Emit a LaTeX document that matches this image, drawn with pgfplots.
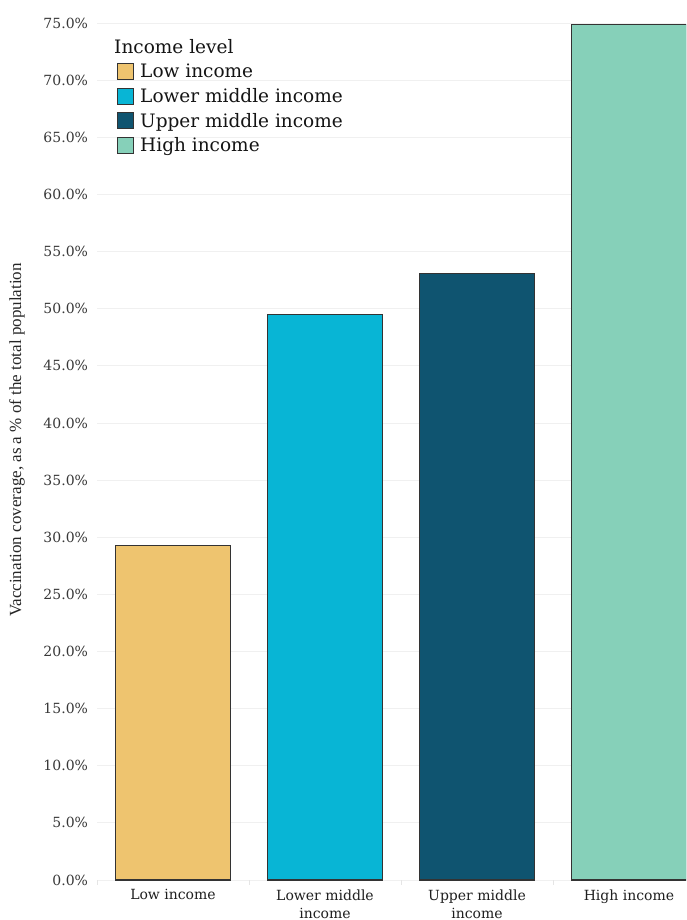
\documentclass[border=0pt]{standalone}
\usepackage{pgfplots}
\pgfplotsset{compat=1.18}
\usepackage{fontspec}
\setmainfont{DejaVu Serif}
\newfontfamily\libserif{Liberation Serif}
\definecolor{lowc}{HTML}{EEC46F}
\definecolor{lmidc}{HTML}{08B5D5}
\definecolor{umidc}{HTML}{0F5470}
\definecolor{highc}{HTML}{86D0B9}
\definecolor{edgec}{HTML}{333333}
\pgfplotsset{
  mybar/.style={ybar, bar shift=0pt, draw=edgec, line width=1.1pt,
    legend image code/.code={\draw[##1, draw=edgec, line width=1pt] (0pt,-8pt) rectangle (16pt,8pt);}},
}
\begin{document}
\begin{tikzpicture}
\useasboundingbox (-97pt,-40pt) rectangle (589pt,880pt);
\begin{axis}[
  at={(0pt,0pt)}, anchor=south west,
  scale only axis, width=589pt, height=880pt,
  xmin=-0.5, xmax=3.375, ymin=0, ymax=77.01,
  bar width=115pt,
  xtick={0,1,2,3},
  xticklabels={Low income, {Lower middle\\income}, {Upper middle\\income}, High income},
  xticklabel style={align=center, font=\fontsize{14}{18}\selectfont, text=black!88, yshift=-6pt},
  ytick={0,5,...,75},
  yticklabel={\pgfmathprintnumber[assume math mode=true,fixed,fixed zerofill,precision=1]{\tick}\%},
  yticklabel style={font=\fontsize{14}{16}\selectfont, text=black!78, xshift=-5.5pt},
  ymajorgrids, grid style={draw=black!6, line width=0.8pt},
  axis line style={draw=none},
  major tick length=0pt,
  minor xtick={-0.5,0.5,1.5,2.5}, minor tick length=5pt, tick align=outside,
  minor tick style={draw=black!10},
  xtick pos=bottom, ytick pos=left,
  every axis y label/.style={at={(axis description cs:-0.1358,0.5)}, rotate=90, anchor=center},
  ylabel={\libserif\fontsize{17}{20}\selectfont Vaccination coverage, as a \% of the total population},
  ylabel style={text=black!85},
  legend style={at={(axis description cs:0.034,0.9282)}, anchor=north west, draw=none, fill=none,
    inner sep=0pt, column sep=4pt, row sep=7.05pt,
    font=\fontsize{18.5}{21}\selectfont, text=black!92,
    nodes={inner ysep=1pt, inner xsep=2pt}},
  legend cell align=left,
]
\addplot[mybar, fill=lowc] coordinates {(0,29.3)};
\addlegendentry{Low income}
\addplot[mybar, fill=lmidc] coordinates {(1,49.5)};
\addlegendentry{Lower middle income}
\addplot[mybar, fill=umidc] coordinates {(2,53.1)};
\addlegendentry{Upper middle income}
\addplot[mybar, fill=highc] coordinates {(3,74.9)};
\addlegendentry{High income}
\node[anchor=west, font=\fontsize{18.5}{21}\selectfont, text=black!92, inner sep=0pt] at (axis description cs:0.0289,0.9465) {Income level};
\end{axis}
\end{tikzpicture}
\end{document}
